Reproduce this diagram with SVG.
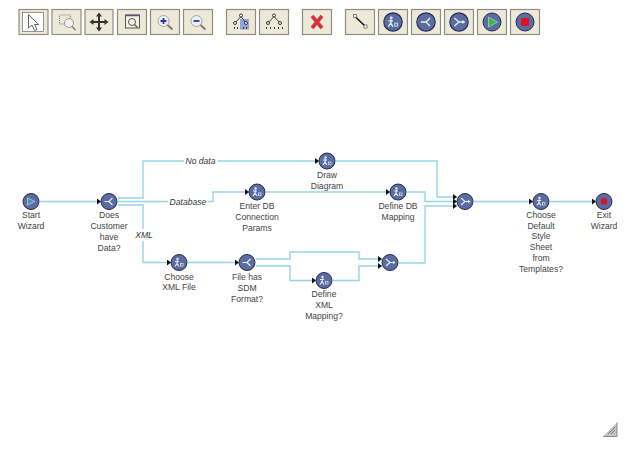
<svg xmlns="http://www.w3.org/2000/svg" xmlns:xlink="http://www.w3.org/1999/xlink" width="635" height="456" viewBox="0 0 635 456">
<style>
.btn{fill:#ece9d8;stroke:#8f8d82;stroke-width:1.2}
.c{fill:none;stroke:#98d3e6;stroke-width:1.4}
.t{font-family:"Liberation Sans",Arial,sans-serif;font-size:8.6px;fill:#444;text-anchor:middle}
.l{font-style:italic;fill:#333}
.n{fill:#5a6ca0;stroke:#232e52;stroke-width:1}
.g{fill:none;stroke:#e8ecf6;stroke-width:1.2}
</style>
<defs>
<marker id="a" markerUnits="userSpaceOnUse" markerWidth="5" markerHeight="6" refX="4" refY="3" orient="auto"><path d="M0 0L4 3L0 6z" fill="#111"/></marker>
<g id="task"><circle class="n" r="8"/><circle cx="-1.500" cy="-3.500" r="1.200" fill="#e8ecf6"/><path class="g" d="M-1.500-2L-2 1L-4 4M-2 1L0 4M-4-1L0-1"/><rect x="1.500" y="1" width="2.500" height="2.500" fill="none" stroke="#e8ecf6" stroke-width=".7"/></g>
<g id="split"><circle class="n" r="8"/><path class="g" d="M-4.500 0H0L3.500-3.500M0 0L3.500 3.500"/></g>
<g id="merge"><circle class="n" r="8"/><path class="g" d="M-4-3.500L0 0L-4 3.500M0 0H4"/><path d="M5.500 0L3 -1.800V1.800z" fill="#e8ecf6"/></g>
</defs>
<rect width="635" height="456" fill="#fff"/>
<g id="toolbar">
<g id="btn-select"><rect x="19" y="9.500" width="29" height="25" class="btn"/><rect x="22.500" y="12.500" width="21" height="19" fill="#fff" stroke="#555" stroke-width=".6"/><path d="M28.500 14.500V28L32 25L34.500 30.500L37 29.500L34.500 24.500H38.500z" fill="#fff" stroke="#666"/></g>
<g id="btn-zoom-region"><rect x="52" y="9.500" width="29" height="25" class="btn"/><rect x="59.500" y="15" width="11" height="9" fill="none" stroke="#777" stroke-dasharray="1 1"/><circle cx="69" cy="23" r="4.500" fill="#f2f2ee" stroke="#999"/><path d="M72 26.500L75.500 30" stroke="#8a7a80" stroke-width="1.600"/></g>
<g id="btn-pan"><rect x="85" y="9.500" width="28" height="25" class="btn"/><path d="M99 14V30M91 22H107" stroke="#333" stroke-width="2"/><path d="M99 12.500L96 16.500H102zM99 31.500L96 27.500H102zM89.500 22L93.500 19V25zM108.500 22L104.500 19V25z" fill="#333"/></g>
<g id="btn-fit"><rect x="117.500" y="9.500" width="29" height="25" class="btn"/><rect x="125.500" y="15" width="14" height="13" fill="#f4f2e6" stroke="#555"/><path d="M125.500 15.500H139.500" stroke="#557" stroke-width="1.500"/><circle cx="132" cy="22" r="3.500" fill="none" stroke="#555"/><path d="M134.500 24.500L137.500 27.500" stroke="#555" stroke-width="1.200"/></g>
<g id="btn-zoom-in"><rect x="150.500" y="9.500" width="29" height="25" class="btn"/><circle cx="163.500" cy="21" r="5.500" fill="#eef0f4" stroke="#9aa"/><path d="M160.500 21H166.500M163.500 18V24" stroke="#2a3a9a" stroke-width="1.800"/><path d="M167.500 25L172.500 29.500" stroke="#8a6a80" stroke-width="1.800"/></g>
<g id="btn-zoom-out"><rect x="183.500" y="9.500" width="29" height="25" class="btn"/><circle cx="196.500" cy="21" r="5.500" fill="#eef0f4" stroke="#9aa"/><path d="M193.500 21H199.500" stroke="#2a3a9a" stroke-width="1.800"/><path d="M200.500 25L205.500 29.500" stroke="#8a6a80" stroke-width="1.800"/></g>
<g id="btn-layout-a"><rect x="226.500" y="9.500" width="29" height="25" class="btn"/><rect x="240" y="19" width="9" height="10.500" fill="#8ea6dc"/><path d="M241 16.500L235 23M241 16.500L246 23" stroke="#444" fill="none"/><circle cx="241" cy="15.500" r="1.500" fill="#fff" stroke="#333"/><circle cx="235" cy="23" r="1.500" fill="#fff" stroke="#333"/><circle cx="246" cy="23" r="1.500" fill="#fff" stroke="#333"/><path d="M234 28h1M237 28h1M243 28h1M246 28h1" stroke="#333" stroke-width="2"/></g>
<g id="btn-layout-b"><rect x="259.500" y="9.500" width="29" height="25" class="btn"/><path d="M274 16.500L268 23M274 16.500L280 23" stroke="#444" fill="none"/><circle cx="274" cy="15.500" r="1.500" fill="#fff" stroke="#333"/><circle cx="268" cy="23" r="1.500" fill="#fff" stroke="#333"/><circle cx="280" cy="23" r="1.500" fill="#fff" stroke="#333"/><path d="M266 28h1M270 28h1M274 28h1M278 28h1M282 28h1" stroke="#333" stroke-width="2"/></g>
<g id="btn-delete"><rect x="302.500" y="9.500" width="29" height="25" class="btn"/><path d="M312 16L322 28M322 16L312 28" stroke="#d8303c" stroke-width="3.600"/></g>
<g id="btn-line"><rect x="345.500" y="9.500" width="29" height="25" class="btn"/><path d="M355 16.500L365 26" stroke="#111" stroke-width="1.500"/><rect x="353.500" y="14.500" width="3" height="3" fill="#fff" stroke="#555" stroke-width=".7"/><rect x="364" y="25" width="3" height="3" fill="#fff" stroke="#555" stroke-width=".7"/></g>
<g id="btn-task"><rect x="378.500" y="9.500" width="29" height="25" class="btn"/><use xlink:href="#task" transform="translate(393,22) scale(1.150)"/></g>
<g id="btn-split"><rect x="411.500" y="9.500" width="29" height="25" class="btn"/><use xlink:href="#split" transform="translate(426,22) scale(1.150)"/></g>
<g id="btn-merge"><rect x="444.500" y="9.500" width="29" height="25" class="btn"/><use xlink:href="#merge" transform="translate(459,22) scale(1.150)"/></g>
<g id="btn-start"><rect x="477.500" y="9.500" width="29" height="25" class="btn"/><circle class="n" cx="492" cy="22" r="9"/><path d="M488.500 17L497.500 22L488.500 27z" fill="#3fb54a" stroke="#cfe" stroke-width=".5"/></g>
<g id="btn-stop"><rect x="510.500" y="9.500" width="29" height="25" class="btn"/><circle class="n" cx="525" cy="22" r="9"/><rect x="521" y="18" width="8" height="8" fill="#e01020"/></g>
</g>
<g id="connectors">
<path class="c" marker-end="url(#a)" d="M40 201.500H101"/>
<path class="c" d="M118 198H143V161H184"/>
<path class="c" marker-end="url(#a)" d="M218 161H319"/>
<path class="c" d="M118 201.500H168"/>
<path class="c" marker-end="url(#a)" d="M208 201.500H213V192H249"/>
<path class="c" d="M118 205H143V229"/>
<path class="c" marker-end="url(#a)" d="M143 241V262.500H171"/>
<path class="c" marker-end="url(#a)" d="M188 262.500H239"/>
<path class="c" marker-end="url(#a)" d="M266 192H390"/>
<path class="c" marker-end="url(#a)" d="M336 161H437V197H457"/>
<path class="c" marker-end="url(#a)" d="M407 192H425V201.500H457"/>
<path class="c" marker-end="url(#a)" d="M399 263H425V206H457"/>
<path class="c" marker-end="url(#a)" d="M256 259H290V252H359V259H382"/>
<path class="c" marker-end="url(#a)" d="M256 266H290V280.500H316"/>
<path class="c" marker-end="url(#a)" d="M333 280.500H359V266H382"/>
<path class="c" marker-end="url(#a)" d="M474 201.500H533"/>
<path class="c" marker-end="url(#a)" d="M550 201.500H596"/>
<text class="t l" x="200.500" y="164">No data</text>
<text class="t l" x="188" y="205">Database</text>
<text class="t l" x="144" y="238">XML</text>
</g>
<g id="start"><circle class="n" cx="31" cy="201.500" r="8"/><path d="M27.500 198L35 201.500L27.500 205z" fill="#4f8f9a" stroke="#bfe" stroke-width=".6"/><text class="t" x="31" y="218">Start<tspan x="31" dy="11">Wizard</tspan></text></g>
<g id="does-customer"><use xlink:href="#split" x="109" y="201.500"/><text class="t" x="109" y="218">Does<tspan x="109" dy="11">Customer</tspan><tspan x="109" dy="11">have</tspan><tspan x="109" dy="11">Data?</tspan></text></g>
<g id="choose-xml"><use xlink:href="#task" x="179" y="262.500"/><text class="t" x="179" y="280">Choose<tspan x="179" dy="10">XML File</tspan></text></g>
<g id="draw-diagram"><use xlink:href="#task" x="327" y="161"/><text class="t" x="327" y="178">Draw<tspan x="327" dy="11">Diagram</tspan></text></g>
<g id="enter-db"><use xlink:href="#task" x="257" y="192"/><text class="t" x="257" y="209">Enter DB<tspan x="257" dy="11">Connection</tspan><tspan x="257" dy="11">Params</tspan></text></g>
<g id="define-db"><use xlink:href="#task" x="398" y="192"/><text class="t" x="398" y="209">Define DB<tspan x="398" dy="11">Mapping</tspan></text></g>
<g id="file-sdm"><use xlink:href="#split" x="247" y="262.500"/><text class="t" x="247" y="280">File has<tspan x="247" dy="11">SDM</tspan><tspan x="247" dy="11">Format?</tspan></text></g>
<g id="define-xml"><use xlink:href="#task" x="324" y="280.500"/><text class="t" x="324" y="297">Define<tspan x="324" dy="11">XML</tspan><tspan x="324" dy="11">Mapping?</tspan></text></g>
<g id="merge-1"><use xlink:href="#merge" x="390" y="262.500"/></g>
<g id="merge-2"><use xlink:href="#merge" x="465" y="201.500"/></g>
<g id="choose-style"><use xlink:href="#task" x="541" y="201.500"/><text class="t" x="541" y="218">Choose<tspan x="541" dy="10.700">Default</tspan><tspan x="541" dy="10.700">Style</tspan><tspan x="541" dy="10.700">Sheet</tspan><tspan x="541" dy="10.700">from</tspan><tspan x="541" dy="10.700">Templates?</tspan></text></g>
<g id="exit"><circle class="n" cx="604" cy="201.500" r="8"/><rect x="601" y="198.500" width="6" height="6" fill="#d8102a"/><text class="t" x="604" y="218">Exit<tspan x="604" dy="11">Wizard</tspan></text></g>
<g id="resize-grip"><path d="M603 436.500L617 422.500V436.500z" fill="#c4c4c4"/><path d="M603 436.500H617V422.500" fill="none" stroke="#8a8a8a"/><path d="M608 434L615 427M611 434L615 430" stroke="#777"/></g>
</svg>
